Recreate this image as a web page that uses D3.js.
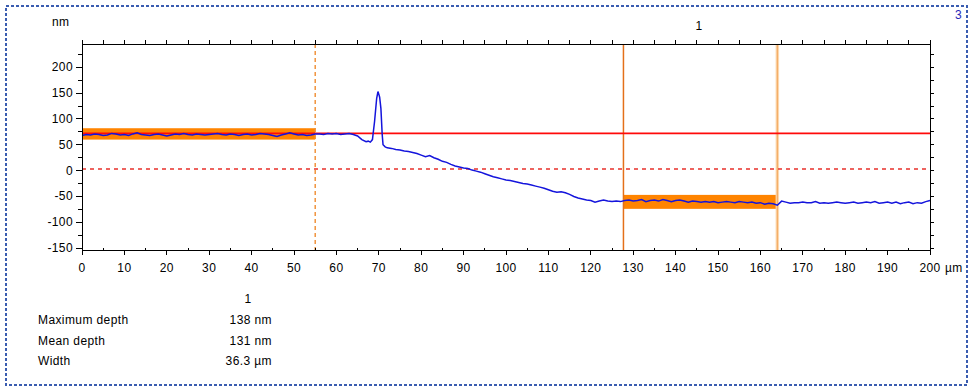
<!DOCTYPE html>
<html>
<head>
<meta charset="utf-8">
<script src="https://cdn.jsdelivr.net/npm/d3@7"></script>
<style>
  body { margin: 0; background: #fff; }
  svg text { font-family: "Liberation Sans", Arial, sans-serif; font-size: 12px; letter-spacing: 0.4px; fill: #000; }
</style>
</head>
<body>
<svg id="chart" width="975" height="392"></svg>
<script>
// profile distance (µm) and height (nm)
var profileX = [0,1,2,3,4,5,6,7,8,9,10,11,12,13,14,15,16,17,18,19,20,21,22,23,24,25,26,27,28,29,30,31,32,33,34,35,36,37,38,39,40,41,42,43,44,45,46,47,48,49,50,51,52,53,54,55,
	56,57,58,59,60,61,62,63,64,65,66,67,67.5,68,68.5,69,69.5,69.8,70,70.2,70.5,70.8,71,71.5,72,73,74,75,76,77,78,79,80,81,82,83,84,85,86,87,88,89,90,
	91,92,93,94,95,96,97,98,99,100,101,102,103,104,105,106,107,108,109,110,111,112,113,114,115,116,117,118,119,120,121,122,123,124,125,126,127,128,129,130,
	131,132,133,134,135,136,137,138,139,140,141,142,143,144,145,146,147,148,149,150,151,152,153,154,155,156,157,158,159,160,161,162,163,164,165,166,167,168,169,170,
	171,172,173,174,175,176,177,178,179,180,181,182,183,184,185,186,187,188,189,190,191,192,193,194,195,196,197,198,199,200];
var profileY = [68,70,69,71,70,68,69,72,71,69,70,68,71,73,70,69,68,70,71,69,67,69,71,70,72,70,69,71,70,69,70,71,72,70,69,71,70,68,70,71,69,70,72,71,70,68,66,69,71,73,71,69,70,68,69,71,
	71,70,72,71,72,70,71,72,70,67,60,56,57,55,60,95,140,153,148,142,120,70,50,46,44,43,41,40,38,37,35,33,30,27,29,25,22,18,16,12,9,7,5,
	4,1,-1,-3,-6,-9,-12,-14,-16,-18,-19,-21,-23,-25,-26,-28,-30,-32,-34,-37,-40,-42,-41,-43,-46,-50,-53,-55,-57,-58,-61,-59,-57,-59,-60,-59,-60,-58,-57,-59,
	-58,-56,-60,-58,-57,-59,-56,-58,-60,-58,-57,-59,-61,-59,-60,-61,-60,-61,-60,-62,-61,-60,-61,-62,-60,-61,-62,-61,-63,-62,-65,-63,-64,-67,-59,-61,-63,-62,-62,-61,
	-62,-62,-60,-63,-62,-63,-62,-61,-62,-63,-62,-61,-63,-62,-61,-62,-60,-63,-62,-61,-63,-61,-64,-62,-61,-64,-62,-63,-60,-58];

var xTicks = [0,10,20,30,40,50,60,70,80,90,100,110,120,130,140,150,160,170,180,190,200];
var yTicks = [-150,-100,-50,0,50,100,150,200];

// reference bands [x0, x1, yLow, yHigh]
var bands = [[0, 55, 60, 82], [127.7, 164, -74, -47]];
var refLevel = 72, lowLevel = 3;
var cursorA = 55, cursorB = 127.7, cursorC = 164;

var tableRows = [["Maximum depth", "138 nm"], ["Mean depth", "131 nm"], ["Width", "36.3 µm"]];

var svg = d3.select('#chart');
var margin = {left: 82, top: 44, right: 930, bottom: 250.7};

var x = d3.scaleLinear().domain([0, 200]).range([margin.left, margin.right]);
var y = d3.scaleLinear().domain([-155, 245]).range([margin.bottom, margin.top]);

// dotted outer frame
svg.append('rect')
	.attr('x', 6).attr('y', 6).attr('width', 961).attr('height', 379)
	.attr('fill', 'none').attr('stroke', '#3a5cb0').attr('stroke-width', 2)
	.attr('stroke-dasharray', '3,2');

svg.append('text').attr('x', 962).attr('y', 19).attr('text-anchor', 'end')
	.style('fill', '#2828b8').text('3');
svg.append('text').attr('x', 699).attr('y', 30).attr('text-anchor', 'middle').text('1');
svg.append('text').attr('x', 52).attr('y', 26).text('nm');

var plot = svg.append('g');

// bands
plot.selectAll('.band').data(bands).enter().append('rect')
	.attr('class', 'band')
	.attr('x', function(d){ return x(d[0]); })
	.attr('width', function(d){ return x(d[1]) - x(d[0]); })
	.attr('y', function(d){ return y(d[3]); })
	.attr('height', function(d){ return y(d[2]) - y(d[3]); })
	.style('fill', '#ff8400');

// cursors
var vline = function(xv, color, w, dash){
	plot.append('line').attr('x1', x(xv)).attr('x2', x(xv))
		.attr('y1', y(245)).attr('y2', y(-155))
		.attr('stroke', color).attr('stroke-width', w)
		.attr('stroke-dasharray', dash);
};
vline(cursorA, '#f08c30', 1.4, '4,3');
vline(cursorB, '#e4701a', 1.5, null);
vline(cursorC, '#fcd8ae', 3.5, null);
vline(cursorC, '#f4ac66', 1.2, null);

// levels
plot.append('line').attr('x1', x(0)).attr('x2', x(200))
	.attr('y1', y(refLevel)).attr('y2', y(refLevel))
	.attr('stroke', '#ff0a0a').attr('stroke-width', 1.6);
plot.append('line').attr('x1', x(0)).attr('x2', x(200))
	.attr('y1', y(lowLevel)).attr('y2', y(lowLevel))
	.attr('stroke', '#e8302a').attr('stroke-width', 1.4).attr('stroke-dasharray', '4,4');

// profile
var line = d3.line()
	.x(function(d, i){ return x(profileX[i]); })
	.y(function(d){ return y(d); });
plot.append('path').datum(profileY)
	.attr('d', line)
	.attr('fill', 'none').attr('stroke', '#1414dc').attr('stroke-width', 1.5);

// frame + axes
var axG = svg.append('g').attr('shape-rendering', 'crispEdges');
axG.append('rect').attr('x', x(0)).attr('y', y(245))
	.attr('width', x(200) - x(0)).attr('height', y(-155) - y(245))
	.attr('fill', 'none').attr('stroke', '#000');

var top5 = d3.range(0, 201, 5);
axG.selectAll('.ttick').data(top5).enter().append('line')
	.attr('x1', function(d){ return x(d); }).attr('x2', function(d){ return x(d); })
	.attr('y1', y(245)).attr('y2', y(245) - 4).attr('stroke', '#000');

// bottom: majors out, minors in
axG.selectAll('.btick').data(top5).enter().append('line')
	.attr('x1', function(d){ return x(d); }).attr('x2', function(d){ return x(d); })
	.attr('y1', y(-155))
	.attr('y2', function(d){ return d % 10 == 0 ? y(-155) + 4 : y(-155) - 3; })
	.attr('stroke', '#000');
svg.selectAll('.xlab').data(xTicks).enter().append('text')
	.attr('x', function(d){ return x(d); }).attr('y', y(-155) + 21)
	.attr('text-anchor', 'middle')
	.text(function(d){ return d; });
svg.append('text').attr('x', x(200) + 15).attr('y', y(-155) + 21).text('µm');

var y25 = d3.range(-150, 226, 25);
axG.selectAll('.ltick').data(y25).enter().append('line')
	.attr('x1', x(0))
	.attr('x2', function(d){ return d % 50 == 0 ? x(0) - 6 : x(0) - 4; })
	.attr('y1', function(d){ return y(d); }).attr('y2', function(d){ return y(d); })
	.attr('stroke', '#000');
axG.selectAll('.rtick').data(y25).enter().append('line')
	.attr('x1', x(200)).attr('x2', x(200) + 4)
	.attr('y1', function(d){ return y(d); }).attr('y2', function(d){ return y(d); })
	.attr('stroke', '#000');
svg.selectAll('.ylab').data(yTicks).enter().append('text')
	.attr('x', x(0) - 9).attr('y', function(d){ return y(d) + 4; })
	.attr('text-anchor', 'end')
	.text(function(d){ return d; });

// results table
svg.append('text').attr('x', 248).attr('y', 303).attr('text-anchor', 'middle').text('1');
var row = svg.selectAll('.row').data(tableRows).enter().append('g');
row.append('text').attr('x', 38).attr('y', function(d, i){ return 324 + i * 20.5; })
	.text(function(d){ return d[0]; });
row.append('text').attr('x', 272).attr('y', function(d, i){ return 324 + i * 20.5; })
	.attr('text-anchor', 'end')
	.text(function(d){ return d[1]; });
</script>
</body>
</html>
